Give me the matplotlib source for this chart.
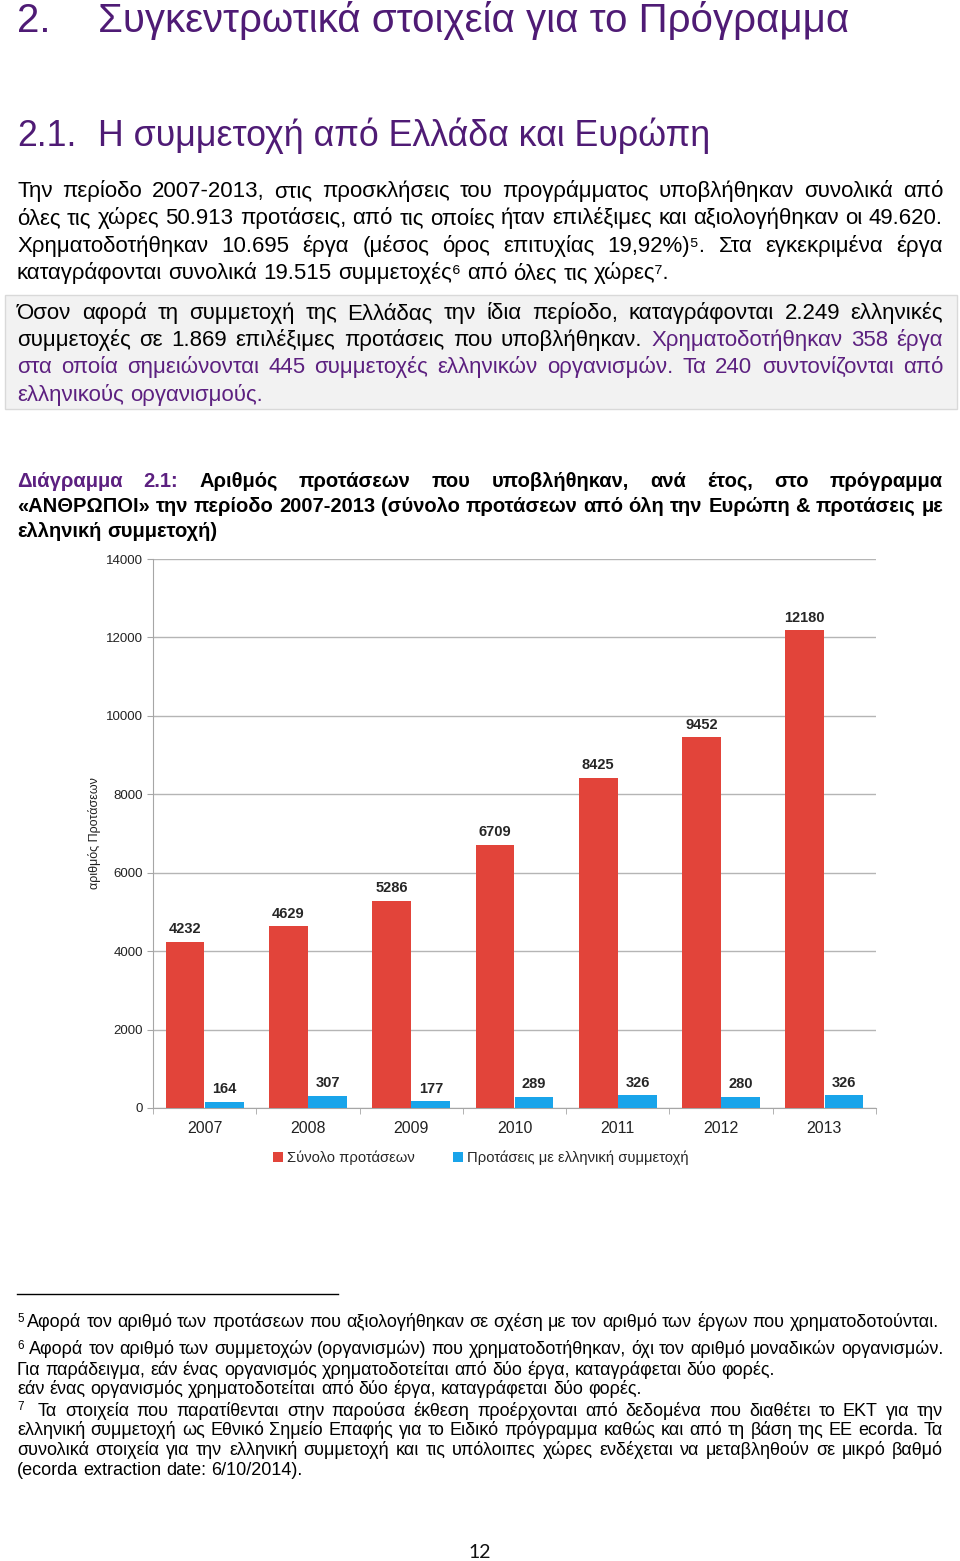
import numpy as np
import matplotlib
matplotlib.use('Agg')
import matplotlib.pyplot as plt
from matplotlib.patches import Rectangle
from matplotlib.lines import Line2D

# δεδομένα διαγράμματος
years = ['2007', '2008', '2009', '2010', '2011', '2012', '2013']
total_proposals = [4232, 4629, 5286, 6709, 8425, 9452, 12180]
greek_proposals = [164, 307, 177, 289, 326, 280, 326]
yticks = [0, 2000, 4000, 6000, 8000, 10000, 12000, 14000]

TITLE_PURPLE = '#4f1b75'
PURPLE = '#5c2080'
RED = '#e2443a'
BLUE = '#19a4ea'
FONT = ['Liberation Sans', 'DejaVu Sans']

W, H = 960, 1561
fig = plt.figure(figsize=(W / 100, H / 100), dpi=100)
fig.patch.set_facecolor('white')
renderer = fig.canvas.get_renderer()


def put(x, y, s, **kw):
    """κείμενο σε συντεταγμένες pixel (πάνω αριστερά = 0,0)"""
    kw.setdefault('family', FONT)
    kw.setdefault('va', 'baseline')
    return fig.text(x / W, 1 - y / H, s, **kw)


def width_of(s, size, weight='normal'):
    t = put(0, 0, s, fontsize=size, fontweight=weight)
    w = t.get_window_extent(renderer).width
    t.remove()
    return w


def fit_size(s, target, weight='normal'):
    return 20 * target / width_of(s, 20, weight)


def text_line(parts, y, size, x0=17, x1=943, justify=True, weight='normal'):
    """γραμμή με πλήρη στοίχιση, λέξη προς λέξη"""
    words = [(w, c) for s, c in parts for w in s.split()]
    widths = [width_of(w, size, weight) for w, _ in words]
    if justify and len(words) > 1:
        gap = (x1 - x0 - sum(widths)) / (len(words) - 1)
    else:
        gap = 0.278 * size * 100 / 72
    x = x0
    for (w, c), wd in zip(words, widths):
        put(x, y, w, fontsize=size, fontweight=weight, color=c)
        x += wd + gap


# τίτλοι
t1 = 'Συγκεντρωτικά στοιχεία για το Πρόγραμμα'
ts = fit_size(t1, 750)
put(17, 32, '2.', fontsize=ts, color=TITLE_PURPLE)
put(98, 32, t1, fontsize=ts, color=TITLE_PURPLE)
t2 = 'Η συμμετοχή από Ελλάδα και Ευρώπη'
ts2 = fit_size(t2, 612)
put(17, 146, '2.1.', fontsize=ts2, color=TITLE_PURPLE)
put(98, 146, t2, fontsize=ts2, color=TITLE_PURPLE)

# πρώτη παράγραφος
K = 'black'
body = fit_size('καταγράφονται συνολικά 19.515 συμμετοχές⁶ από όλες τις χώρες⁷.', 655)
text_line([('Την περίοδο 2007-2013, στις προσκλήσεις του προγράμματος υποβλήθηκαν συνολικά από', K)], 197, body)
text_line([('όλες τις χώρες 50.913 προτάσεις, από τις οποίες ήταν επιλέξιμες και αξιολογήθηκαν οι 49.620.', K)], 224, body)
text_line([('Χρηματοδοτήθηκαν 10.695 έργα (μέσος όρος επιτυχίας 19,92%)⁵. Στα εγκεκριμένα έργα', K)], 252, body)
text_line([('καταγράφονται συνολικά 19.515 συμμετοχές⁶ από όλες τις χώρες⁷.', K)], 279, body, justify=False)

# γκρι πλαίσιο
fig.add_artist(Rectangle((5 / W, 1 - 409 / H), 952 / W, 114 / H, transform=fig.transFigure,
                         facecolor='#f2f2f2', edgecolor='#d9d9d9', lw=1, zorder=0))
text_line([('Όσον αφορά τη συμμετοχή της Ελλάδας την ίδια περίοδο, καταγράφονται 2.249 ελληνικές', K)], 319, body)
text_line([('συμμετοχές σε 1.869 επιλέξιμες προτάσεις που υποβλήθηκαν.', K),
           ('Χρηματοδοτήθηκαν 358 έργα', PURPLE)], 346, body)
text_line([('στα οποία σημειώνονται 445 συμμετοχές ελληνικών οργανισμών. Τα 240 συντονίζονται από', PURPLE)], 373, body)
text_line([('ελληνικούς οργανισμούς.', PURPLE)], 401, body, justify=False)

# λεζάντα διαγράμματος
cap = fit_size('ελληνική συμμετοχή)', 200, 'bold')
text_line([('Διάγραμμα 2.1:', PURPLE),
           ('Αριθμός προτάσεων που υποβλήθηκαν, ανά έτος, στο πρόγραμμα', K)], 487, cap, weight='bold')
text_line([('«ΑΝΘΡΩΠΟΙ» την περίοδο 2007-2013 (σύνολο προτάσεων από όλη την Ευρώπη & προτάσεις με', K)],
          512, cap, weight='bold')
text_line([('ελληνική συμμετοχή)', K)], 537, cap, weight='bold', justify=False)

# διάγραμμα
ax = fig.add_axes([153 / W, 1 - 1108 / H, (876 - 153) / W, (1108 - 559) / H])
x = np.arange(len(years))
b1 = ax.bar(x - 0.19, total_proposals, 0.375, color=RED, label='Σύνολο προτάσεων', zorder=3)
b2 = ax.bar(x + 0.19, greek_proposals, 0.375, color=BLUE, label='Προτάσεις με ελληνική συμμετοχή', zorder=3)
for bars in (b1, b2):
    ax.bar_label(bars, padding=4, fontsize=10.5, fontweight='bold', color='#262626', family=FONT)

ax.set_ylim(0, 14000)
ax.set_xlim(-0.5, 6.5)
ax.set_yticks(yticks)
ax.grid(axis='y', color='#b5b5b5', lw=1, zorder=0)
ax.set_axisbelow(True)
for s in ('top', 'right'):
    ax.spines[s].set_visible(False)
for s in ('left', 'bottom'):
    ax.spines[s].set_color('#a6a6a6')
ax.set_xticks(x, years)
ax.set_xticks(np.arange(-0.5, 7), minor=True)
ax.tick_params(axis='x', which='major', length=0, pad=9.5, labelsize=11.5, labelcolor='#222222')
ax.tick_params(axis='x', which='minor', length=4, color='#a6a6a6')
ax.tick_params(axis='y', length=4, pad=3, color='#a6a6a6', labelsize=9.5, labelcolor='#222222')
for lab in ax.get_xticklabels() + ax.get_yticklabels():
    lab.set_family(FONT)
ax.set_ylabel('αριθμός Προτάσεων', fontsize=9, family=FONT, color='#222222')
ax.yaxis.set_label_coords((101 - 153) / 723, 0.5)

fig.legend(handles=[b1, b2], loc='center', bbox_to_anchor=(481 / W, 1 - 1158 / H), ncol=2,
           frameon=False, prop={'family': FONT, 'size': 10.6}, labelcolor='#262626',
           handlelength=0.65, handleheight=0.65, handletextpad=0.3, columnspacing=2.6)

# υποσημειώσεις
fig.add_artist(Line2D([17 / W, 338 / W], [1 - 1294 / H] * 2, transform=fig.transFigure, color='black', lw=1))
fn = fit_size('Αφορά τον αριθμό των προτάσεων που αξιολογήθηκαν σε σχέση με τον αριθμό των έργων που χρηματοδοτούνται.', 908)
sup = fn * 0.65
put(17, 1322, '5', fontsize=sup)
text_line([('Αφορά τον αριθμό των προτάσεων που αξιολογήθηκαν σε σχέση με τον αριθμό των έργων που χρηματοδοτούνται.', K)],
          1327, fn, x0=27, justify=False)
put(17, 1349, '6', fontsize=sup)
text_line([('Αφορά τον αριθμό των συμμετοχών (οργανισμών) που χρηματοδοτήθηκαν, όχι τον αριθμό μοναδικών οργανισμών.', K)],
          1354, fn, x0=29, justify=False)
text_line([('Για παράδειγμα, εάν ένας οργανισμός χρηματοδοτείται από δύο έργα, καταγράφεται δύο φορές.', K)],
          1375, fn, justify=False)
text_line([('εάν ένας οργανισμός χρηματοδοτείται από δύο έργα, καταγράφεται δύο φορές.', K)],
          1394, fn, justify=False)
put(17, 1410, '7', fontsize=sup)
text_line([('Τα στοιχεία που παρατίθενται στην παρούσα έκθεση προέρχονται από δεδομένα που διαθέτει το ΕΚΤ για την', K)],
          1416, fn, x0=38)
text_line([('ελληνική συμμετοχή ως Εθνικό Σημείο Επαφής για το Ειδικό πρόγραμμα καθώς και από τη βάση της ΕΕ ecorda. Τα', K)],
          1435, fn)
text_line([('συνολικά στοιχεία για την ελληνική συμμετοχή και τις υπόλοιπες χώρες ενδέχεται να μεταβληθούν σε μικρό βαθμό', K)],
          1455, fn)
text_line([('(ecorda extraction date: 6/10/2014).', K)], 1475, fn, justify=False)

# αριθμός σελίδας
put(480, 1558, '12', fontsize=14, family=['Lato', 'DejaVu Sans'], ha='center', color='#111111')

fig.savefig('out.png', dpi=100, facecolor='white')
